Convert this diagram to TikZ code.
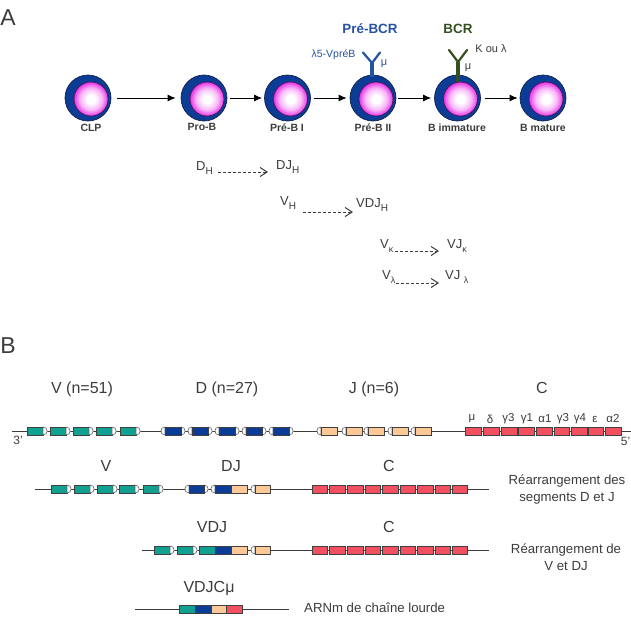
\documentclass[tikz,border=0pt]{standalone}
\usepackage{fontspec}
\setmainfont{Liberation Sans}
\usetikzlibrary{arrows.meta}
\definecolor{nucblue}{HTML}{0B3C96}
\definecolor{cytoedge}{HTML}{14224A}
\definecolor{ink}{HTML}{3C3C3C}
\definecolor{prebcr}{HTML}{2453A4}
\definecolor{bcrgreen}{HTML}{34501F}
\definecolor{segteal}{HTML}{12A090}
\definecolor{segblue}{HTML}{0B3C96}
\definecolor{segtan}{HTML}{FCC896}
\definecolor{segred}{HTML}{F25060}
\definecolor{glowpink}{HTML}{F8B8F8}
\definecolor{glowrim}{HTML}{E634E6}
\definecolor{nucedge}{HTML}{4A1050}
\pgfdeclareradialshading{nucleusglow}{\pgfpoint{0bp}{0bp}}{%
  color(0bp)=(white); color(6bp)=(white); color(16bp)=(glowpink);
  color(25bp)=(glowrim); color(50bp)=(glowrim)}
\tikzset{
  cellbody/.style={circle,minimum size=46pt,inner sep=0,fill=nucblue,draw=cytoedge,line width=.7pt},
  nucleus/.style={circle,minimum size=34pt,inner sep=0,draw=nucedge,line width=.6pt,shading=nucleusglow},
  celllabel/.style={font=\fontsize{10.5}{12}\selectfont\bfseries,text=ink,inner sep=0},
  stage/.style={-{Latex[length=8pt,width=7pt]},black,line width=.9pt},
  rearr/.style={-{Straight Barb[length=7pt,width=9pt,line width=1pt]},ink,dash pattern=on 3pt off 2pt,line width=.7pt},
  genelabel/.style={font=\fontsize{13}{15}\selectfont,text=ink,inner sep=0},
  segname/.style={font=\fontsize{16}{18}\selectfont,text=ink,inner sep=0},
  isotype/.style={font=\fontsize{11.5}{13}\selectfont,text=ink,inner sep=0},
  endmark/.style={font=\fontsize{12}{13}\selectfont,text=ink,inner sep=0},
  panel/.style={font=\fontsize{23}{25}\selectfont,text=ink,inner sep=0},
  note/.style={font=\fontsize{13.2}{16}\selectfont,text=ink,inner sep=0,align=center},
  dna/.style={draw=ink,line width=.8pt},
  seg/.style={draw=black!75,line width=.7pt},
  capshape/.style={draw=black!60,fill=white,line width=.6pt}
}
% one differentiation stage: body, nucleus and caption
\newcommand{\bcell}[5]{%
  \node[cellbody] (#1) at (#2,98) {};
  \node[nucleus] (#1n) at (#2+3,99) {};
  \node[celllabel] (#1l) at (#3,#4) {#5};
}
% gene segments on a row at height y: box, then white recombination caps
\newcommand{\segbox}[4]{\fill[#4] (#1,#3-4) rectangle (#2,#3+4); \draw[seg] (#1,#3-4) rectangle (#2,#3+4);}
\newcommand{\capright}[2]{\draw[capshape] (#1,#2-4) .. controls (#1+5.5,#2-4) and (#1+5.5,#2+4) .. (#1,#2+4) -- cycle;}
\newcommand{\capleft}[2]{\draw[capshape] (#1,#2-4) .. controls (#1-5.5,#2-4) and (#1-5.5,#2+4) .. (#1,#2+4) -- cycle;}
\newcommand{\sbs}[1]{\raisebox{-.3em}{\fontsize{10}{10}\selectfont #1}}
\newcommand{\sbt}[1]{\raisebox{-.3em}{\fontsize{9}{9}\selectfont #1}}
\begin{document}
\begin{tikzpicture}[x=1pt,y=-1pt]
\useasboundingbox (0,0) rectangle (631,635);
\fill[white] (0,0) rectangle (631,635);

% panel letters
\node[panel] (panelA) at (8,18) {A};
\node[panel] (panelB) at (8,346) {B};

% differentiation stages
\bcell{clp}{88}{91}{128}{CLP}
\bcell{prob}{204}{202}{127}{Pro-B}
\bcell{prebi}{287.5}{287}{128}{Pré-B I}
\bcell{prebii}{373}{373}{128}{Pré-B II}
\bcell{bimm}{457.5}{457}{128}{B immature}
\bcell{bmat}{543}{543}{128}{B mature}

\draw[stage,shorten <=6pt,shorten >=5pt] (clp) -- (prob);
\draw[stage,shorten <=3pt,shorten >=2pt] (prob) -- (prebi);
\draw[stage,shorten <=3pt,shorten >=3pt] (prebi) -- (prebii);
\draw[stage,shorten <=2pt,shorten >=3pt] (prebii) -- (bimm);
\draw[stage,shorten <=4pt,shorten >=2pt] (bimm) -- (bmat);

% receptors on the cell surface
\draw[prebcr,line width=3.4pt] (prebii.north) ++(-1,2) -- (372,63);
\draw[prebcr,line width=2.2pt,line cap=round] (363,52.5) -- (372,63) -- (380,52.5);
\draw[bcrgreen,line width=3.4pt] (458,82) -- (458,62);
\draw[bcrgreen,line width=2.2pt,line cap=round] (449,50) -- (458,62) -- (467,50);

\node[font=\fontsize{13.4}{15}\selectfont\bfseries,text=prebcr,inner sep=0] (lprebcr) at (370,29) {Pré-BCR};
\node[font=\fontsize{13.4}{15}\selectfont\bfseries,text=bcrgreen,inner sep=0] (lbcr) at (458,29) {BCR};
\node[font=\fontsize{10.5}{12}\selectfont,text=prebcr,inner sep=0] (lvpreb) at (333.5,55) {λ5-VpréB};
\node[font=\fontsize{11}{12}\selectfont,text=prebcr,inner sep=0] (lmu1) at (384,64) {μ};
\node[font=\fontsize{11}{12}\selectfont,text=ink,inner sep=0] (lkl) at (491,49) {K ou λ};
\node[font=\fontsize{11}{12}\selectfont,text=ink,inner sep=0] (lmu2) at (468,68) {μ};

% rearrangement steps
\node[genelabel,anchor=west] (dh) at (196,168) {D\sbs{H}};
\node[genelabel,anchor=west] (djh) at (276,167) {DJ\sbs{H}};
\draw[rearr] ([shift={(5,4)}]dh.east) -- ([shift={(-8,5)}]djh.west);
\node[genelabel,anchor=west] (vh) at (280,203) {V\sbs{H}};
\node[genelabel,anchor=west] (vdjh) at (356,205) {VDJ\sbs{H}};
\draw[rearr] ([shift={(7,9)}]vh.east) -- ([shift={(-3,7)}]vdjh.west);
\node[genelabel,anchor=west] (vk) at (380,246) {V\sbt{κ}};
\node[genelabel,anchor=west] (vjk) at (447,246) {VJ\sbt{κ}};
\draw[rearr] ([shift={(1,5)}]vk.east) -- ([shift={(-8,5)}]vjk.west);
\node[genelabel,anchor=west] (vl) at (382,277) {V\sbt{λ}};
\node[genelabel,anchor=west] (vjl) at (445,277) {VJ \sbt{λ}};
\draw[rearr] ([shift={(0,6)}]vl.east) -- ([shift={(-6,6)}]vjl.west);

% germline locus
\draw[dna] (12,431) -- (631,431);
\foreach \x in {27,50,73,96,120} {\segbox{\x}{\x+16}{431}{segteal}\capright{\x+16}{431}}
\foreach \x in {165,192,219,246,273} {\capleft{\x}{431}\capright{\x+16}{431}\segbox{\x}{\x+16}{431}{segblue}}
\foreach \x in {321,346,368,392,415} {\capleft{\x}{431}\segbox{\x}{\x+16}{431}{segtan}}
\foreach \a/\b in {465/481,483.5/499,501/517,518/534,536/552,554/569,571/587,588/603,605/621} {\segbox{\a}{\b}{431}{segred}}

\node[segname] (tV) at (82,389) {V (n=51)};
\node[segname] (tD) at (227,389) {D (n=27)};
\node[segname] (tJ) at (374,389) {J (n=6)};
\node[segname] (tC) at (542,388) {C};
\node[endmark] (e3) at (18,440) {3'};
\node[endmark,anchor=east] (e5) at (630.5,441) {5'};
\foreach \x/\t in {472/μ,490/δ,508.5/γ3,527/γ1,545/α1,563/γ3,580/γ4,595/ε,613/α2} {\node[isotype] at (\x,419) {\t};}

% D-J rearranged locus
\draw[dna] (35,489) -- (489,489);
\foreach \x in {51,74,97,119,143} {\segbox{\x}{\x+16}{489}{segteal}\capright{\x+16}{489}}
\capleft{189}{489}\capright{204}{489}\segbox{189}{204}{489}{segblue}
\capleft{215}{489}\segbox{215}{231}{489}{segblue}\segbox{231}{247}{489}{segtan}
\capleft{255}{489}\segbox{255}{270}{489}{segtan}
\foreach \a/\b in {312/327,329/345,347/363,365/380,382/398,400/415,417/433,435/450,452/467} {\segbox{\a}{\b}{489}{segred}}
\node[segname] (tV2) at (106,466) {V};
\node[segname] (tDJ) at (231,466) {DJ};
\node[segname] (tC2) at (389,466) {C};
\node[note] (n1) at (567,490) {Réarrangement des\\[1pt]segments D et J};

% V-DJ rearranged locus
\draw[dna] (142,550) -- (489,550);
\foreach \x in {154,177} {\segbox{\x}{\x+16}{550}{segteal}\capright{\x+16}{550}}
\segbox{199}{215}{550}{segteal}\segbox{215}{231}{550}{segblue}\segbox{231}{247}{550}{segtan}
\capleft{255}{550}\segbox{255}{270}{550}{segtan}
\foreach \a/\b in {312/327,329/345,347/363,365/380,382/398,400/415,417/433,435/450,452/467} {\segbox{\a}{\b}{550}{segred}}
\node[segname] (tVDJ) at (212,527) {VDJ};
\node[segname] (tC3) at (389,527) {C};
\node[note] (n2) at (566,557) {Réarrangement de\\[1pt]V et DJ};

% mature heavy-chain transcript
\draw[dna] (135,609) -- (289,609);
\segbox{179}{195}{609}{segteal}\segbox{195}{211}{609}{segblue}\segbox{211}{226}{609}{segtan}\segbox{226}{242}{609}{segred}
\node[segname] (tVDJC) at (209,588) {VDJCμ};
\node[note,anchor=west] (n3) at (304,608) {ARNm de chaîne lourde};
\end{tikzpicture}
\end{document}
